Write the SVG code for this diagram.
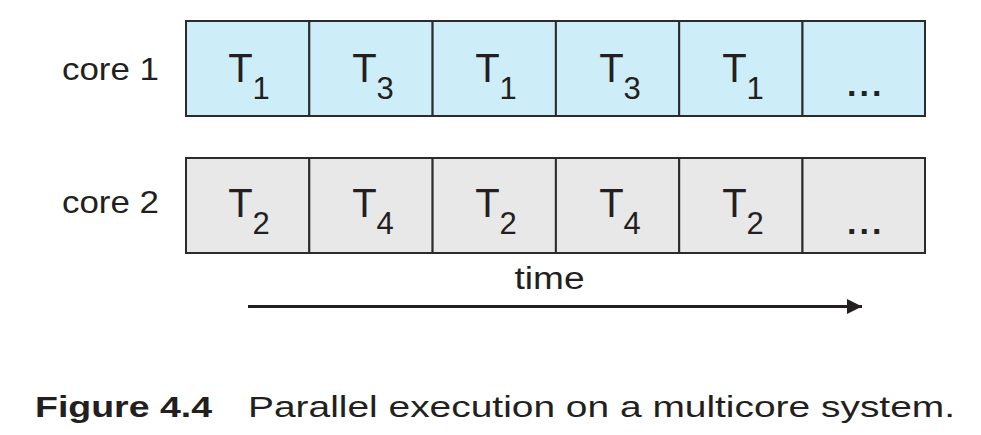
<svg xmlns="http://www.w3.org/2000/svg" width="981" height="435" viewBox="0 0 981 435">
<defs>
<style>
.c1{fill:#cdeef9;stroke:#2b2b2b;stroke-width:2}
.c2{fill:#e8e8e8;stroke:#2b2b2b;stroke-width:2}
text{font-family:"Liberation Sans",Arial,sans-serif;fill:#231f20}
.t{font-size:40px;text-anchor:middle}
.s{font-size:31px}
.lbl{font-size:32px}
.dots{font-size:34px;font-weight:bold;letter-spacing:3px}
</style>
<marker id="ah" viewBox="0 0 10 10" refX="10" refY="5" markerWidth="6" markerHeight="5" markerUnits="strokeWidth" orient="auto">
<path d="M0,0 L10,5 L0,10 Z" fill="#231f20"/>
</marker>
</defs>
<rect width="981" height="435" fill="#ffffff"/>
<g id="core1">
<text class="lbl" x="62" y="80" textLength="97" lengthAdjust="spacingAndGlyphs">core 1</text>
<rect class="c1" x="186" y="21" width="123.3" height="95"/>
<rect class="c1" x="309.3" y="21" width="123.3" height="95"/>
<rect class="c1" x="432.6" y="21" width="123.3" height="95"/>
<rect class="c1" x="555.9" y="21" width="123.3" height="95"/>
<rect class="c1" x="679.2" y="21" width="123.3" height="95"/>
<rect class="c1" x="802.5" y="21" width="122.5" height="95"/>
<text class="t" x="249" y="81.7">T<tspan class="s" dy="17.6">1</tspan></text>
<text class="t" x="373" y="81.7">T<tspan class="s" dy="17.6">3</tspan></text>
<text class="t" x="496" y="81.7">T<tspan class="s" dy="17.6">1</tspan></text>
<text class="t" x="620" y="81.7">T<tspan class="s" dy="17.6">3</tspan></text>
<text class="t" x="743" y="81.7">T<tspan class="s" dy="17.6">1</tspan></text>
<text class="dots" x="847" y="96">...</text>
</g>
<g id="core2">
<text class="lbl" x="62" y="213.3" textLength="97" lengthAdjust="spacingAndGlyphs">core 2</text>
<rect class="c2" x="186" y="158" width="123.3" height="95"/>
<rect class="c2" x="309.3" y="158" width="123.3" height="95"/>
<rect class="c2" x="432.6" y="158" width="123.3" height="95"/>
<rect class="c2" x="555.9" y="158" width="123.3" height="95"/>
<rect class="c2" x="679.2" y="158" width="123.3" height="95"/>
<rect class="c2" x="802.5" y="158" width="122.5" height="95"/>
<text class="t" x="249" y="216.7">T<tspan class="s" dy="17.6">2</tspan></text>
<text class="t" x="373" y="216.7">T<tspan class="s" dy="17.6">4</tspan></text>
<text class="t" x="496" y="216.7">T<tspan class="s" dy="17.6">2</tspan></text>
<text class="t" x="620" y="216.7">T<tspan class="s" dy="17.6">4</tspan></text>
<text class="t" x="743" y="216.7">T<tspan class="s" dy="17.6">2</tspan></text>
<text class="dots" x="847" y="234">...</text>
</g>
<g id="time-axis">
<text x="514.5" y="289.3" textLength="70" lengthAdjust="spacingAndGlyphs" style="font-size:31px">time</text>
</g>
<g id="connectors">
<line x1="248" y1="306.5" x2="862" y2="306.5" stroke="#231f20" stroke-width="3" marker-end="url(#ah)"/>
</g>
<g id="caption">
<text x="35" y="416.5" style="font-size:30px;font-weight:bold" textLength="177" lengthAdjust="spacingAndGlyphs">Figure 4.4</text>
<text x="248" y="416.5" style="font-size:30px" textLength="707" lengthAdjust="spacingAndGlyphs">Parallel execution on a multicore system.</text>
</g>
</svg>
